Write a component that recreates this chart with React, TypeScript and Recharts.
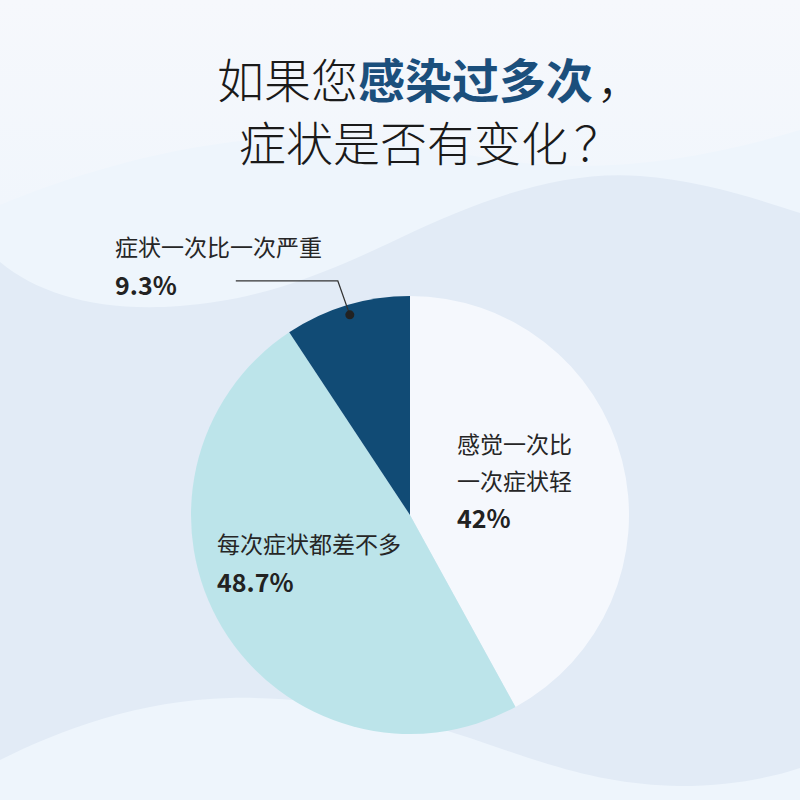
import React from 'react';
import { PieChart, Pie, Cell } from 'recharts';

const categories = ['感觉一次比一次症状轻', '每次症状都差不多', '症状一次比一次严重'];
const shares = [42, 48.7, 9.3];
const shareLabels = ['42%', '48.7%', '9.3%'];
const sliceColors = ['#f5f8fd', '#bce4ea', '#114b75'];

const chartData = categories.map((name, i) => ({ name, value: shares[i] }));

const FONT = '"Noto Sans CJK SC", "Noto Sans", sans-serif';
const RAD = Math.PI / 180;

// label text placement per slice, relative to the pie centre
const renderLabel = (props: any) => {
  const { cx, cy, index, midAngle, outerRadius } = props;
  const text = { fontFamily: FONT, fontSize: 23, fontWeight: 400, fill: '#262626', dominantBaseline: 'central' as const };
  const pct = { fontFamily: FONT, fontSize: 25, fontWeight: 700, fill: '#222', dominantBaseline: 'central' as const };

  if (index === 0) {
    const x = cx + 47;
    return (
      <g>
        <text x={x} y={cy - 72} {...text}>感觉一次比</text>
        <text x={x} y={cy - 35} {...text}>一次症状轻</text>
        <text x={x} y={cy + 2} {...pct}>{shareLabels[0]}</text>
      </g>
    );
  }
  if (index === 1) {
    const x = cx - 193;
    return (
      <g>
        <text x={x} y={cy + 28} {...text}>{categories[1]}</text>
        <text x={x} y={cy + 66} {...pct}>{shareLabels[1]}</text>
      </g>
    );
  }
  // small slice: leader line out of the slice to the upper left
  const r = outerRadius - 10;
  const dx = cx + r * Math.cos(-midAngle * RAD);
  const dy = cy + r * Math.sin(-midAngle * RAD);
  const ex = dx - 12;
  const ey = dy - 34;
  return (
    <g>
      <polyline points={`${dx},${dy} ${ex},${ey} ${ex - 102},${ey}`} fill="none" stroke="#333" strokeWidth={1.3} />
      <circle cx={dx} cy={dy} r={4.5} fill="#222" />
      <text x={cx - 295} y={cy - 269} {...text}>{categories[2]}</text>
      <text x={cx - 295} y={cy - 231} {...pct}>{shareLabels[2]}</text>
    </g>
  );
};

const Background: React.FC = () => (
  <svg width={800} height={800} style={{ position: 'absolute', left: 0, top: 0 }}>
    <defs>
      <linearGradient id="topFade" x1="0" y1="0" x2="0" y2="1">
        <stop offset="0" stopColor="#f6f8fc" />
        <stop offset="1" stopColor="#f1f6fc" />
      </linearGradient>
    </defs>
    <rect width={800} height={800} fill="#e2ebf6" />
    {/* top light wave */}
    <path
      d="M0,0 L800,0 L800,213 C760,200 700,180 640,176 C560,170 480,200 400,238 C320,276 260,300 180,306 C100,312 40,295 0,262 Z"
      fill="#eef5fc"
    />
    <path
      d="M0,0 L800,0 L800,130 C700,160 600,175 500,160 C420,148 340,132 250,140 C150,150 60,180 0,205 Z"
      fill="url(#topFade)"
    />
    {/* bottom light wave */}
    <path
      d="M0,760 C60,730 140,700 230,698 C320,696 400,715 470,738 C540,762 600,785 680,786 C730,786 770,778 800,768 L800,800 L0,800 Z"
      fill="#eef5fc"
    />
  </svg>
);

export default function App() {
  return (
    <div style={{ position: 'absolute', left: 0, top: 0, width: 800, height: 800, overflow: 'hidden' }}>
      <Background />
      <svg width={800} height={200} style={{ position: 'absolute', left: 0, top: 0 }}>
        <text x={217} y={77} fontFamily={FONT} fontSize={47} fontWeight={300} fill="#1a1a1a" dominantBaseline="central">
          如果您<tspan fill="#1b4f7c" fontWeight={700}>感染过多次</tspan><tspan dx={4}>，</tspan>
        </text>
        <text x={239} y={140} fontFamily={FONT} fontSize={47} fontWeight={300} fill="#1a1a1a" dominantBaseline="central">
          症状是否有变化<tspan dx={6}>？</tspan>
        </text>
      </svg>
      <div style={{ position: 'absolute', left: 0, top: 0 }}>
        <PieChart width={800} height={800} margin={{ top: 0, right: 0, bottom: 0, left: 0 }}>
          <Pie
            data={chartData}
            dataKey="value"
            nameKey="name"
            cx={410}
            cy={515}
            outerRadius={219}
            startAngle={90}
            endAngle={-270}
            stroke="none"
            label={renderLabel}
            labelLine={false}
            isAnimationActive={false}
          >
            {chartData.map((d, i) => (
              <Cell key={d.name} fill={sliceColors[i]} />
            ))}
          </Pie>
        </PieChart>
      </div>
    </div>
  );
}
